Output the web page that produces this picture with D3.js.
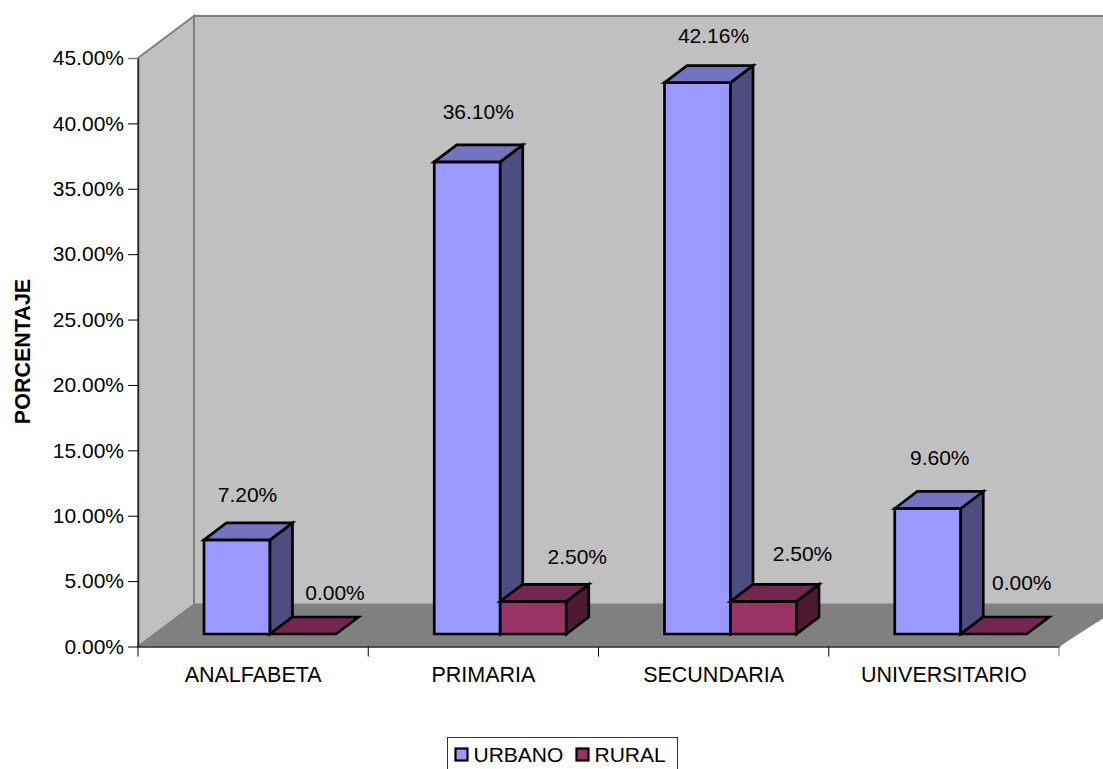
<!DOCTYPE html>
<html><head><meta charset="utf-8">
<script src="https://cdn.jsdelivr.net/npm/d3@7/dist/d3.min.js"></script>
<style>html,body{margin:0;padding:0;background:#fff;overflow:hidden}svg{display:block}text{font-family:"Liberation Sans",Arial,sans-serif;fill:#000}</style>
</head><body><svg id="c" width="1103" height="769"></svg>
<script>
const categories = ["ANALFABETA","PRIMARIA","SECUNDARIA","UNIVERSITARIO"];
const urbano = [7.20,36.10,42.16,9.60];
const rural = [0,2.50,2.50,0];
const seriesNames = ["URBANO","RURAL"];
const yTicks = [0,5,10,15,20,25,30,35,40,45];

const svg = d3.select("#c");
const x0=138,x1=1059,y0=646.5,yT=58,dx=56,dy=-42;
const y = d3.scaleLinear().domain([0,45]).range([y0,yT]);
const x = d3.scaleBand().domain(categories).range([x0,x1]);
const fmt = d3.format(".2f");
const poly=(pts,fill,stroke,w)=>svg.append("polygon").attr("points",pts.map(p=>p.join(",")).join(" ")).attr("fill",fill).attr("stroke",stroke||"none").attr("stroke-width",w||0).attr("stroke-linejoin","miter");

// walls and floor
poly([[x0,yT],[x0+dx,yT+dy],[x0+dx,y0+dy],[x0,y0]],"#C0C0C0","#808080",2);
poly([[x0+dx,yT+dy],[1110,yT+dy],[1110,y0+dy],[x0+dx,y0+dy]],"#C0C0C0","#808080",2);
poly([[x0,y0],[x0+dx,y0+dy],[1125,y0+dy],[x1,y0]],"#808080");
svg.append("line").attr("x1",x1).attr("y1",y0).attr("x2",x1+dx).attr("y2",y0+dy).attr("stroke","#808080").attr("stroke-width",1.5);

// axes
const gy = svg.append("g").attr("transform",`translate(${x0},0)`).call(d3.axisLeft(y).tickValues(yTicks).tickFormat(d=>fmt(d)+"%").tickSize(10).tickPadding(4).tickSizeOuter(0));
const gx = svg.append("g").attr("transform",`translate(0,${y0})`).call(d3.axisBottom(x).tickSize(0).tickPadding(20).tickSizeOuter(0));
gx.selectAll(".tick").append("line").attr("x1",-x.bandwidth()/2).attr("x2",-x.bandwidth()/2).attr("y2",10).attr("stroke","#000");
gx.append("line").attr("x1",x1).attr("x2",x1).attr("y2",10).attr("stroke","#808080");
svg.selectAll(".domain").attr("stroke","#222").attr("stroke-width",1.4);
gx.selectAll("text").style("font-size","21.5px").attr("fill","#000");
gy.selectAll("text").style("font-size","21px").attr("fill","#000");
gy.selectAll(".tick line").filter(d=>d===45).attr("stroke","#808080").attr("stroke-width",1.5);

// bars
const barW=66, inset=66, bdx=22.5, bdy=-17, lift=12.5;
const hScale=v=>y0-y(v);
const drawBar=(left,v,front,top,side)=>{
  const b=y0-lift, t=b-hScale(v), r=left+barW;
  if(v>0) poly([[left,t],[r,t],[r,b],[left,b]],front,"#000",2.7);
  if(v>0) poly([[r,t],[r+bdx,t+bdy],[r+bdx,b+bdy],[r,b]],side,"#000",2.7);
  poly([[left,t],[left+bdx,t+bdy],[r+bdx,t+bdy],[r,t]],top,"#000",2.7);
};
categories.forEach((c,i)=>{
  drawBar(x(c)+inset,urbano[i],"#9999FF","#7373BF","#4D4D80");
});
categories.forEach((c,i)=>{
  drawBar(x(c)+inset+barW,rural[i],"#993366","#732650","#4D1A33");
});

// value labels
const nudgeU=[[43.5,-38],[44,-43],[49,-40],[45,-43]];
const nudgeR=[[65,-34],[77,-37],[72,-40],[61,-44]];
const lab=(px,py,v)=>svg.append("text").attr("x",px).attr("y",py).attr("text-anchor","middle").style("font-size","21px").text(fmt(v)+"%");
categories.forEach((c,i)=>{
  const b=y0-lift;
  lab(x(c)+inset+nudgeU[i][0],b-hScale(urbano[i])+nudgeU[i][1],urbano[i]);
  lab(x(c)+inset+barW+nudgeR[i][0],b-hScale(rural[i])+nudgeR[i][1],rural[i]);
});

// axis title
svg.append("text").attr("transform","translate(30,351.5) rotate(-90)").attr("text-anchor","middle").style("font-size","21.5px").style("font-weight","bold").text("PORCENTAJE");

// legend
svg.append("rect").attr("x",447.5).attr("y",737.5).attr("width",230).attr("height",40).attr("fill","#fff").attr("stroke","#333");
const swatch=[[455.5,"#9999FF"],[576.5,"#993366"]];
seriesNames.forEach((n,i)=>{
  svg.append("rect").attr("x",swatch[i][0]).attr("y",748.5).attr("width",12).attr("height",12).attr("fill",swatch[i][1]).attr("stroke","#000").attr("stroke-width",2.2);
  svg.append("text").attr("x",swatch[i][0]+18).attr("y",762).style("font-size","21px").text(n);
});
</script></body></html>
